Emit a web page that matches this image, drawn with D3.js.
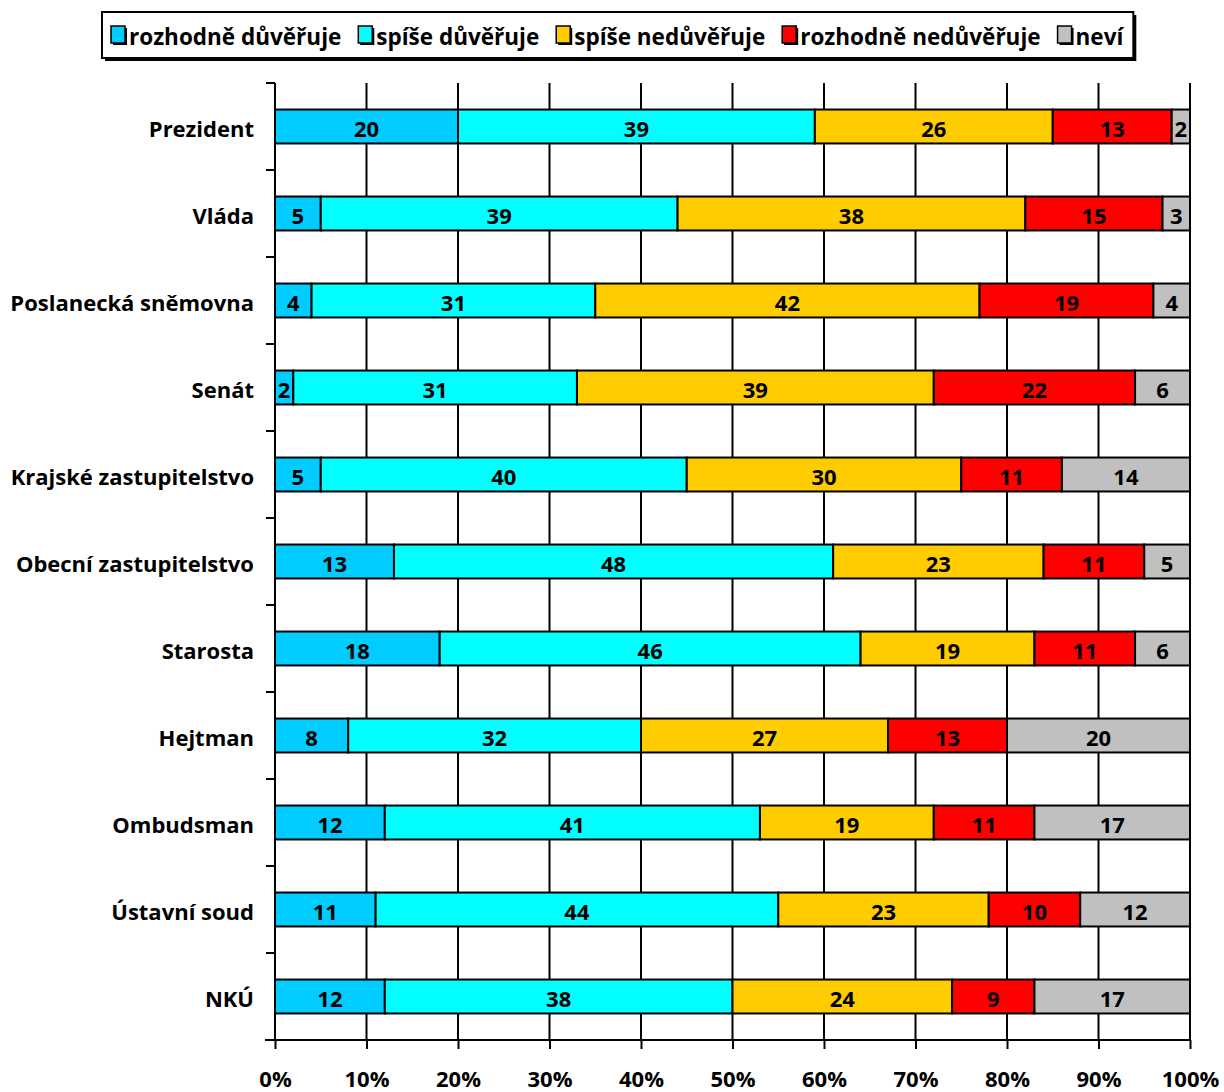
<!DOCTYPE html>
<html>
<head>
<meta charset="utf-8">
<script src="https://cdn.jsdelivr.net/npm/d3@7"></script>
<style>
html,body{margin:0;padding:0;background:#fff;}
text{font-family:"Open Sans","DejaVu Sans",sans-serif;font-weight:bold;}
</style>
</head>
<body>
<svg id="chart" width="1224" height="1092"></svg>
<script>
const categories = ["Prezident","Vláda","Poslanecká sněmovna","Senát","Krajské zastupitelstvo","Obecní zastupitelstvo","Starosta","Hejtman","Ombudsman","Ústavní soud","NKÚ"];
const seriesNames = ["rozhodně důvěřuje","spíše důvěřuje","spíše nedůvěřuje","rozhodně nedůvěřuje","neví"];
const seriesColors = ["#00CCFF","#00FFFF","#FFCC00","#FF0000","#C0C0C0"];
const rozhodneDuveruje   = [20,5,4,2,5,13,18,8,12,11,12];
const spiseDuveruje      = [39,39,31,31,40,48,46,32,41,44,38];
const spiseNeduveruje    = [26,38,42,39,30,23,19,27,19,23,24];
const rozhodneNeduveruje = [13,15,19,22,11,11,11,13,11,10,9];
const nevi               = [2,3,4,6,14,5,6,20,17,12,17];
const xTicks = [0,10,20,30,40,50,60,70,80,90,100];

const seriesValues = [rozhodneDuveruje,spiseDuveruje,spiseNeduveruje,rozhodneNeduveruje,nevi];
const table = categories.map((c,i)=>{const o={cat:c}; seriesNames.forEach((s,j)=>o[s]=seriesValues[j][i]); return o;});

const FS = 22;
const svg = d3.select("#chart");
const mLeft=275, mRight=1190, mTop=83, mBottom=1040;
const x = d3.scaleLinear().domain([0,100]).range([mLeft,mRight]);
const y = d3.scaleBand().domain(categories).range([mTop,mBottom]).paddingInner(0.61).paddingOuter(0.305);
const yb = d3.scaleBand().domain(categories).range([mTop,mBottom]);

// gridlines
svg.append("g").selectAll("line").data(xTicks.slice(1)).join("line")
  .attr("x1",d=>x(d)).attr("x2",d=>x(d)).attr("y1",mTop).attr("y2",mBottom)
  .attr("stroke","#000").attr("stroke-width",2);

// bars
const stack = d3.stack().keys(seriesNames)(table);
const g = svg.append("g");
stack.forEach((layer,j)=>{
  g.append("g").selectAll("rect").data(layer).join("rect")
    .attr("x",d=>x(d[0])).attr("width",d=>x(d[1])-x(d[0]))
    .attr("y",d=>y(d.data.cat)).attr("height",y.bandwidth())
    .attr("fill",seriesColors[j]).attr("stroke","#000").attr("stroke-width",2);
});
stack.forEach((layer,j)=>{
  g.append("g").selectAll("text").data(layer).join("text")
    .attr("x",d=>(x(d[0])+x(d[1]))/2).attr("y",d=>y(d.data.cat)+y.bandwidth()/2+1)
    .attr("text-anchor","middle").attr("dominant-baseline","central")
    .attr("font-size",FS).attr("fill","#000")
    .text(d=>d[1]-d[0]);
});

// left axis
const yAxis = svg.append("g").attr("transform",`translate(${mLeft},0)`);
yAxis.append("line").attr("x1",0).attr("x2",0).attr("y1",mTop).attr("y2",mBottom).attr("stroke","#000").attr("stroke-width",2);
yAxis.selectAll("line.t").data(categories.concat(["__end"])).join("line").attr("class","t")
  .attr("x1",-9).attr("x2",0)
  .attr("y1",(d,i)=>i<categories.length?yb(d):mBottom).attr("y2",(d,i)=>i<categories.length?yb(d):mBottom)
  .attr("stroke","#000").attr("stroke-width",2);
yAxis.selectAll("text").data(categories).join("text")
  .attr("x",-21).attr("y",d=>yb(d)+yb.bandwidth()/2+1)
  .attr("text-anchor","end").attr("dominant-baseline","central")
  .attr("font-size",FS).text(d=>d);

// bottom axis
const xAxis = svg.append("g").attr("transform",`translate(0,${mBottom})`)
  .call(d3.axisBottom(x).tickValues(xTicks).tickFormat(d=>d+"%").tickSize(9).tickPadding(22));
xAxis.select(".domain").attr("stroke","#000").attr("stroke-width",2).attr("d",`M${mLeft-10},0H${mRight}`);
xAxis.selectAll(".tick line").attr("stroke","#000").attr("stroke-width",2);
xAxis.selectAll(".tick text").attr("font-size",FS).attr("fill","#000")
  .style("font-family",'"Open Sans","DejaVu Sans",sans-serif').style("font-weight","bold");

// legend
const lgd = svg.append("g");
const shadow = lgd.append("rect").attr("fill","#000");
const box = lgd.append("rect").attr("fill","#fff").attr("stroke","#000").attr("stroke-width",2);
let cx = 111;
seriesNames.forEach((s,j)=>{
  const it = lgd.append("g").attr("transform",`translate(${cx},35)`);
  it.append("rect").attr("x",2).attr("y",-7).attr("width",14).attr("height",17).attr("fill","#000");
  it.append("rect").attr("x",0).attr("y",-9).attr("width",14).attr("height",17).attr("fill",seriesColors[j]).attr("stroke","#000").attr("stroke-width",1.5);
  const t = it.append("text").attr("x",18).attr("y",1).attr("dominant-baseline","central").attr("font-size",22.5).text(s);
  cx += 18 + t.node().getComputedTextLength() + (j < seriesNames.length-1 ? 17 : 10);
});
const bw = cx - 102;
box.attr("x",102).attr("y",12).attr("width",bw).attr("height",46);
shadow.attr("x",105).attr("y",15).attr("width",bw).attr("height",46);
</script>
</body>
</html>
